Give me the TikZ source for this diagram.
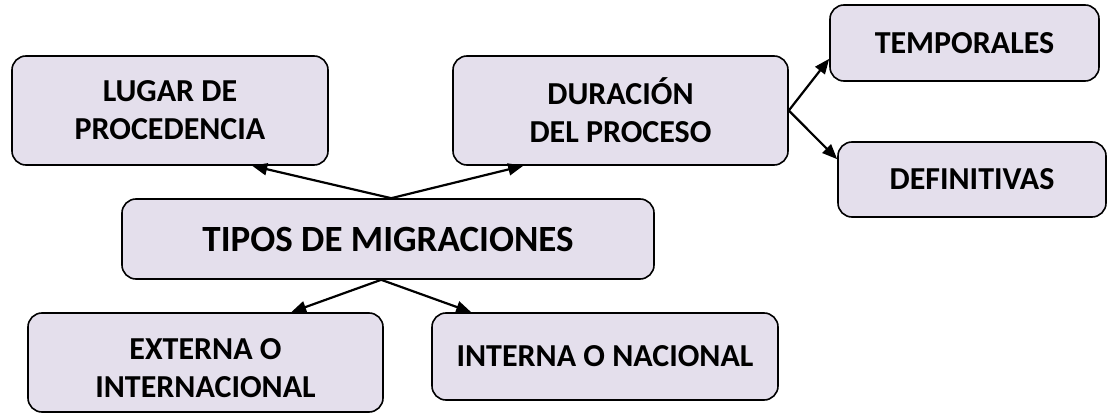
\documentclass[tikz,border=0pt]{standalone}
\usepackage{fontspec}
\setmainfont{Carlito}
\usetikzlibrary{arrows.meta,calc}
\definecolor{boxfill}{HTML}{E4DFEC}
\begin{document}
\begin{tikzpicture}[x=1pt,y=-1pt,
  box/.style={draw=black, line width=1.6pt, fill=boxfill, rounded corners=14pt,
    inner sep=0pt, align=center, font=\fontsize{32}{38}\selectfont\bfseries},
  bigbox/.style={box, font=\fontsize{37}{42}\selectfont\bfseries},
  arr/.style={line width=2.2pt, -{Triangle[length=15pt,width=12pt]}}]
\useasboundingbox (0,0) rectangle (1112,414);
\node[box, minimum width=316pt, minimum height=109pt] (lugar) at (170,110.5) {LUGAR DE\\PROCEDENCIA};
\node[box, minimum width=335pt, minimum height=109pt] (durac) at (620.5,110.5) {DURACIÓN\\DEL PROCESO};
\node[box, minimum width=269pt, minimum height=76pt] (temp) at (964.5,43) {TEMPORALES};
\node[box, minimum width=268pt, minimum height=75pt] (defin) at (972,179.5) {DEFINITIVAS};
\node[bigbox, minimum width=532pt, minimum height=80pt] (tipos) at (388,239) {TIPOS DE MIGRACIONES};
\node[box, minimum width=355pt, minimum height=99pt] (extern) at (205.5,362.5)
  {\raisebox{-15pt}[0pt][0pt]{\begin{tabular}{@{}c@{}}EXTERNA O\\INTERNACIONAL\end{tabular}}};
\node[box, minimum width=346pt, minimum height=87pt] (intern) at (605,356.5) {INTERNA O NACIONAL};
\coordinate (tn) at ($(tipos.north west)+(270,0)$);
\coordinate (ts) at ($(tipos.south west)+(260,0)$);
\draw[arr] (tn) -- ($(lugar.south west)+(241,0)$);
\draw[arr] (tn) -- ($(durac.south west)+(71,0)$);
\draw[arr] (durac.east) -- ($(temp.south west)+(0,-23)$);
\draw[arr] (durac.east) -- ($(defin.north west)+(0,18)$);
\draw[arr] (ts) -- ($(extern.north west)+(264,0)$);
\draw[arr] (ts) -- ($(intern.north west)+(40,0)$);
\end{tikzpicture}
\end{document}
